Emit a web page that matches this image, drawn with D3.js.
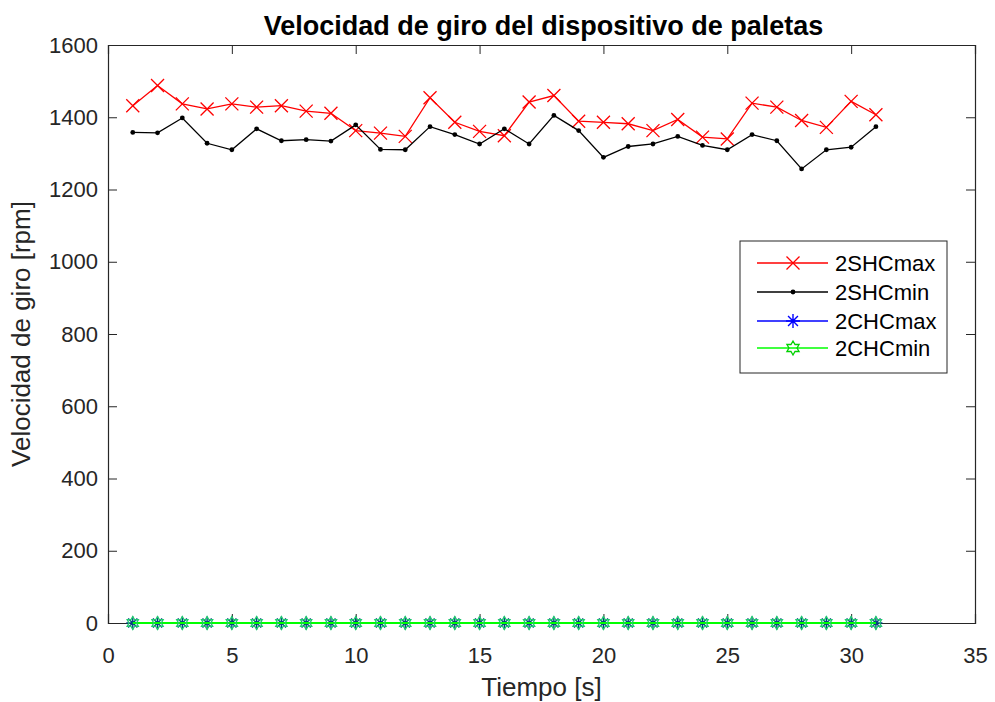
<!DOCTYPE html>
<html><head><meta charset="utf-8">
<script src="https://cdn.jsdelivr.net/npm/d3@7"></script>
<style>body{margin:0;background:#fff;} text{font-family:"Liberation Sans",Arial,sans-serif;}</style>
</head><body><svg id="c" width="995" height="702"></svg>
<script>
const time = d3.range(1, 32);
const shcMax = [1432,1488,1437,1423,1437,1428,1432,1417,1411,1363,1356,1347,1454,1386,1361,1349,1442,1460,1389,1386,1382,1363,1394,1345,1340,1439,1428,1391,1372,1444,1407];
const shcMin = [1358,1357,1398,1328,1310,1368,1335,1338,1334,1379,1311,1310,1374,1352,1326,1368,1326,1405,1363,1289,1319,1326,1347,1322,1310,1352,1335,1257,1310,1317,1374];
const chcMax = time.map(() => 0);
const chcMin = time.map(() => 0);
const xTicks = [0,5,10,15,20,25,30,35];
const yTicks = [0,200,400,600,800,1000,1200,1400,1600];
const seriesNames = ["2SHCmax","2SHCmin","2CHCmax","2CHCmin"];

const svg = d3.select("#c");
const L = 108, R = 975, T = 45, B = 623;
const x = d3.scaleLinear().domain([0,35]).range([L,R]);
const y = d3.scaleLinear().domain([0,1600]).range([B,T]);
const axisCol = "#262626";

svg.append("rect").attr("width",995).attr("height",702).attr("fill","#fff");

// axes
const tl = 9;
const gx = svg.append("g").attr("transform",`translate(0,${B})`).call(d3.axisBottom(x).tickValues(xTicks).tickSize(-tl).tickPadding(24).tickFormat(d3.format("d")));
const gxt = svg.append("g").attr("transform",`translate(0,${T})`).call(d3.axisTop(x).tickValues(xTicks).tickSize(-tl).tickFormat(""));
const gy = svg.append("g").attr("transform",`translate(${L},0)`).call(d3.axisLeft(y).tickValues(yTicks).tickSize(-tl).tickPadding(10).tickFormat(d3.format("d")));
const gyr = svg.append("g").attr("transform",`translate(${R},0)`).call(d3.axisRight(y).tickValues(yTicks).tickSize(-tl).tickFormat(""));
[gx,gxt,gy,gyr].forEach(g=>{
  g.selectAll(".domain").attr("stroke",axisCol).attr("stroke-width",1.2);
  g.selectAll(".tick line").attr("stroke",axisCol).attr("stroke-width",1);
  g.selectAll(".tick text").attr("fill",axisCol).attr("font-size",22).attr("font-family","Liberation Sans, Arial, sans-serif");
});

// labels
svg.append("text").attr("x",(L+R)/2+2).attr("y",35).attr("text-anchor","middle").attr("font-size",27).attr("font-weight","bold").attr("fill","#000").text("Velocidad de giro del dispositivo de paletas");
svg.append("text").attr("x",(L+R)/2).attr("y",696).attr("text-anchor","middle").attr("font-size",26).attr("fill",axisCol).text("Tiempo [s]");
svg.append("text").attr("transform",`translate(30,${(T+B)/2}) rotate(-90)`).attr("text-anchor","middle").attr("font-size",26).attr("fill",axisCol).text("Velocidad de giro [rpm]");

const line = d3.line().x((d,i)=>x(time[i])).y(d=>y(d));

function xMarker(g, cx, cy, s, col){
  g.append("path").attr("d",`M${cx-s},${cy-s}L${cx+s},${cy+s}M${cx-s},${cy+s}L${cx+s},${cy-s}`).attr("stroke",col).attr("stroke-width",1.3).attr("fill","none");
}
function starMarker(g, cx, cy, s, col){
  const d = s*0.707;
  g.append("path").attr("d",`M${cx},${cy-s}L${cx},${cy+s}M${cx-s},${cy}L${cx+s},${cy}M${cx-d},${cy-d}L${cx+d},${cy+d}M${cx-d},${cy+d}L${cx+d},${cy-d}`).attr("stroke",col).attr("stroke-width",1.4).attr("fill","none");
}
function hexMarker(g, cx, cy, s, col){
  const pts = d3.range(12).map(k=>{
    const a = -Math.PI/2 + k*Math.PI/6;
    const r = k%2===0 ? s : s*0.58;
    return [cx + r*Math.cos(a), cy + r*Math.sin(a)];
  });
  g.append("path").attr("d","M"+pts.map(p=>p.join(",")).join("L")+"Z").attr("stroke",col).attr("stroke-width",1.3).attr("fill","none");
}

const plot = svg.append("g");
// 2SHCmax
plot.append("path").attr("d",line(shcMax)).attr("fill","none").attr("stroke","#f00").attr("stroke-width",1.3);
shcMax.forEach((v,i)=>xMarker(plot,x(time[i]),y(v),6.5,"#f00"));
// 2SHCmin
plot.append("path").attr("d",line(shcMin)).attr("fill","none").attr("stroke","#000").attr("stroke-width",1.3);
shcMin.forEach((v,i)=>plot.append("circle").attr("cx",x(time[i])).attr("cy",y(v)).attr("r",2.4).attr("fill","#000"));
// 2CHCmax
plot.append("path").attr("d",line(chcMax)).attr("fill","none").attr("stroke","#00f").attr("stroke-width",1.3);
chcMax.forEach((v,i)=>starMarker(plot,x(time[i]),y(v),6.5,"#004080"));
// 2CHCmin
plot.append("path").attr("d",line(chcMin)).attr("fill","none").attr("stroke","#0f0").attr("stroke-width",1.8);
chcMin.forEach((v,i)=>hexMarker(plot,x(time[i]),y(v),6.5,"#20c870"));

// legend
const lg = svg.append("g");
lg.append("rect").attr("x",740).attr("y",241).attr("width",207).attr("height",132).attr("fill","#fff").attr("stroke",axisCol).attr("stroke-width",1);
const ly = [263,292,321,348];
const cols = ["#f00","#000","#00f","#0f0"];
seriesNames.forEach((n,i)=>{
  lg.append("line").attr("x1",757).attr("x2",828).attr("y1",ly[i]).attr("y2",ly[i]).attr("stroke",cols[i]).attr("stroke-width",1.3);
  if(i===0) xMarker(lg,793,ly[i],6.5,cols[i]);
  if(i===1) lg.append("circle").attr("cx",793).attr("cy",ly[i]).attr("r",2.4).attr("fill","#000");
  if(i===2) starMarker(lg,793,ly[i],7,cols[i]);
  if(i===3) hexMarker(lg,793,ly[i],7,"#00d000");
  lg.append("text").attr("x",835).attr("y",ly[i]).attr("dy","0.35em").attr("font-size",22).attr("fill","#000").text(n);
});
</script></body></html>
